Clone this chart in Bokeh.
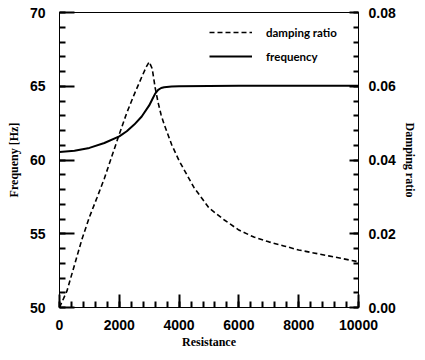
from bokeh.plotting import figure
from bokeh.models import (Range1d, LinearAxis, SingleIntervalTicker, Legend, LegendItem,
                          PrintfTickFormatter)
from bokeh.embed import file_html
from bokeh.resources import INLINE

# Damping ratio (right axis) vs resistance
res_d = [0, 250, 500, 750, 1000, 1250, 1500, 1750, 2000, 2250, 2500, 2750, 2900, 3000,
         3100, 3200, 3300, 3400, 3500, 3750, 4000, 4500, 5000, 5500, 6000, 6500, 7000,
         7500, 8000, 8500, 9000, 9500, 10000]
damping = [0.0, 0.0045, 0.0115, 0.0185, 0.0245, 0.0297, 0.035, 0.041, 0.047, 0.0528, 0.0578,
           0.0625, 0.0652, 0.0666, 0.0648, 0.0596, 0.0555, 0.0522, 0.0497, 0.0442, 0.0398,
           0.0325, 0.0270, 0.0238, 0.0210, 0.0191, 0.0178, 0.0167, 0.0156, 0.0148, 0.0140,
           0.0132, 0.0124]

# Frequency (left axis) vs resistance
res_f = [0, 500, 1000, 1500, 2000, 2250, 2500, 2750, 3000, 3100, 3200, 3300, 3400, 3500,
         3750, 4000, 5000, 6000, 8000, 10000]
frequency = [60.55, 60.62, 60.82, 61.15, 61.6, 61.95, 62.4, 62.95, 63.7, 64.1, 64.5, 64.75,
             64.88, 64.93, 64.98, 65.0, 65.02, 65.03, 65.03, 65.03]

# Axis settings
x_lo, x_hi, x_major = 0, 10000, 2000
f_lo, f_hi, f_major = 50, 70, 5
d_lo, d_hi, d_major = 0.0, 0.08, 0.02

FW, FH = 299, 295
p = figure(frame_width=FW, frame_height=FH, output_backend="svg", toolbar_location=None,
           x_range=Range1d(x_lo, x_hi), y_range=Range1d(f_lo, f_hi),
           min_border_left=59, min_border_right=51, min_border_top=12, min_border_bottom=37)
p.extra_y_ranges = {"d": Range1d(d_lo, d_hi)}
p.grid.visible = False
p.outline_line_color = "black"
p.outline_line_width = 1
p.background_fill_color = "white"
p.border_fill_color = "white"

tick_font = "Liberation Sans"
title_font = "Liberation Serif"

def style(ax, major_in, minor_in, standoff):
    ax.major_tick_out = 0
    ax.minor_tick_out = 0
    ax.major_tick_in = major_in
    ax.minor_tick_in = minor_in
    ax.major_tick_line_color = "#000000"
    ax.minor_tick_line_color = "#000000"
    ax.major_tick_line_width = 2
    ax.minor_tick_line_width = 2
    ax.axis_line_color = "black"
    ax.major_label_text_font = tick_font
    ax.major_label_text_font_style = "bold"
    ax.major_label_text_font_size = "14px"
    ax.major_label_text_color = "black"
    ax.major_label_standoff = standoff
    ax.axis_label_text_font = title_font
    ax.axis_label_text_font_style = "bold"
    ax.axis_label_text_font_size = "12px"
    ax.axis_label_text_color = "black"

xa = p.xaxis[0]
xa.ticker = SingleIntervalTicker(interval=x_major, num_minor_ticks=5)
xa.axis_label = "Resistance"
style(xa, 13, 6, 12)
xa.axis_label_standoff = 2

ya = p.yaxis[0]
ya.ticker = SingleIntervalTicker(interval=f_major, num_minor_ticks=5)
ya.axis_label = "Frequeny [Hz]"
style(ya, 15, 6, 14)
ya.axis_label_standoff = 6

ra = LinearAxis(y_range_name="d", axis_label="Damping ratio")
ra.ticker = SingleIntervalTicker(interval=d_major, num_minor_ticks=5)
ra.formatter = PrintfTickFormatter(format="%.2f")
style(ra, 9, 5, 10)
ra.axis_label_standoff = 4
p.add_layout(ra, "right")

r_d = p.line(res_d, damping, y_range_name="d", line_color="black", line_width=1.6,
             line_dash="5 3")
r_f = p.line(res_f, frequency, line_color="black", line_width=2)

legend = Legend(items=[LegendItem(label="damping ratio", renderers=[r_d]),
                       LegendItem(label="frequency", renderers=[r_f])],
                location=(150, 242))
legend.border_line_color = None
legend.background_fill_alpha = 0
legend.margin = 0
legend.padding = 4
legend.spacing = 6
legend.glyph_width = 43
legend.glyph_height = 18
legend.label_height = 18
legend.label_standoff = 14
legend.label_text_font = "Lato"
legend.label_text_font_style = "bold"
legend.label_text_font_size = "11.5px"
legend.label_text_color = "black"
p.add_layout(legend, "center")

open("out.html", "w").write(file_html(p, INLINE))
